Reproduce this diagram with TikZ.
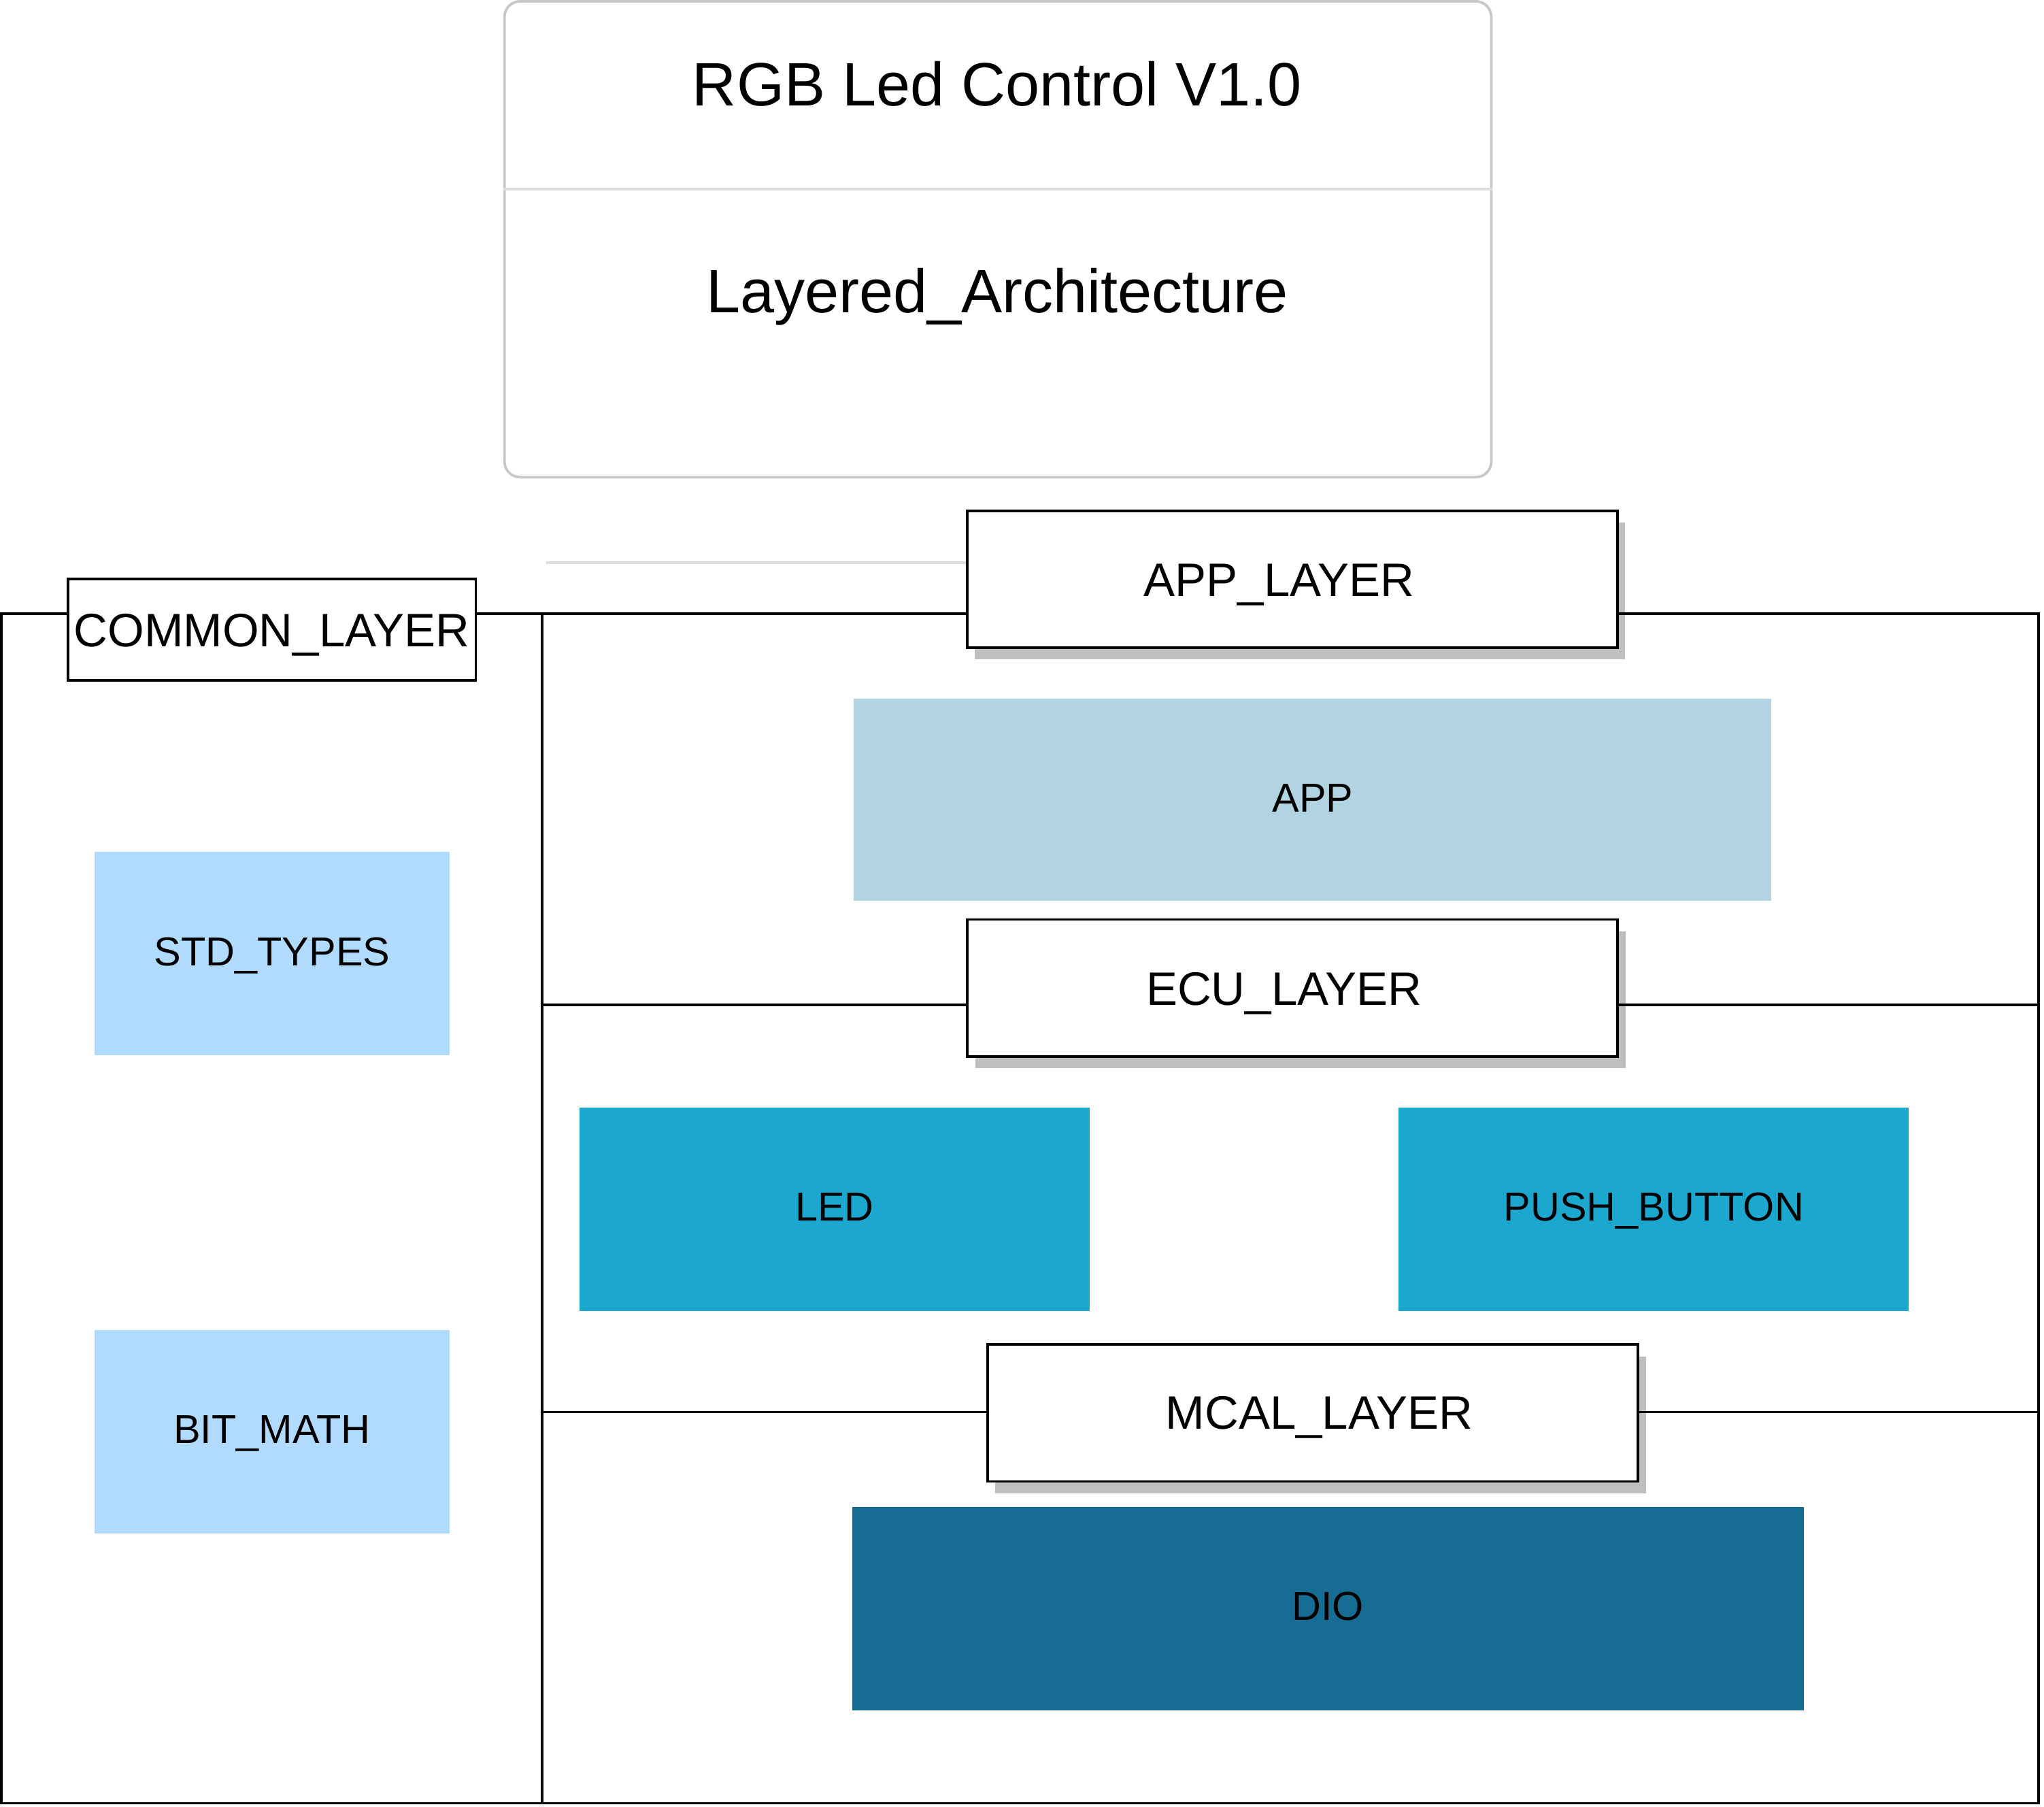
\documentclass[tikz,border=0pt]{standalone}
\usepackage{fontspec}
\setmainfont{Liberation Sans}
\usepackage{tikz}
\usetikzlibrary{positioning,shadows}
\definecolor{appblue}{HTML}{B1D3E2}
\definecolor{stdblue}{HTML}{B0DAFE}
\definecolor{ledblue}{HTML}{1BA7CE}
\definecolor{dioblue}{HTML}{166C93}
\definecolor{shgray}{HTML}{BFBFBF}
\definecolor{boxgray}{HTML}{C8C8C8}
\definecolor{linegray}{HTML}{DDDDDD}

\begin{document}
\begin{tikzpicture}[x=1pt, y=-1pt, line width=2pt, node distance=235pt]
\tikzstyle{every node}=[inner sep=0pt]
\tikzstyle{layer}=[draw=black, fill=white, minimum width=499pt, minimum height=105pt, text height=26pt, text depth=0pt, font=\fontsize{36}{43}\selectfont, drop shadow={shadow xshift=6pt, shadow yshift=-9pt, fill=shgray, opacity=1}]
\tikzstyle{module}=[minimum height=156pt, text height=22pt, text depth=4pt, font=\fontsize{31}{37}\selectfont]
\tikzstyle{heading}=[text height=34pt, text depth=0pt, font=\fontsize{47}{56}\selectfont]
\tikzstyle{faint}=[draw=linegray]
\tikzset{nudge/.style={execute at begin node={\hspace*{#1}}}}
\useasboundingbox (0,0) rectangle (1568,1385.4);
\node[draw=boxgray, rounded corners=12pt, minimum width=757pt, minimum height=365pt] (title) at (765.5,183.5) {};
\coordinate (split) at (0,145);
\draw[faint] (title.west |- split) -- (title.east |- split);
\node[heading] (name) at (765,64) {RGB Led Control V1.0};
\node[heading] (arch) at (765,223) {Layered\_Architecture};
\node[module, fill=stdblue, minimum width=272.6pt] (stdtypes) at (208.7,731.5) {STD\_TYPES};
\node[module, fill=stdblue, minimum width=272.6pt, below=208.7pt of stdtypes] (bitmath) {BIT\_MATH};
\node[module, fill=appblue, minimum width=704pt, minimum height=155pt] (app) at (1007,613.5) {APP};
\node[module, fill=ledblue, minimum width=391.4pt] (led) at (640.3,927.3) {LED};
\node[module, fill=ledblue, minimum width=391.4pt, right=of led] (button) {PUSH\_BUTTON};
\node[module, fill=dioblue, minimum width=729.8pt] (dio) at (1018.7,1233.9) {DIO};
\node[layer, nudge=-20pt] (applayer) at (991.3,444.3) {APP\_LAYER};
\node[layer, nudge=-13pt] (ecu) at (991.5,757.7) {ECU\_LAYER};
\node[layer, nudge=10pt, text depth=1pt] (mcal) at (1007,1083.7) {MCAL\_LAYER};
\node[draw=black, fill=white, minimum width=313pt, minimum height=78pt, text height=26pt, text depth=0pt, font=\fontsize{36}{43}\selectfont] (common) at (208.5,483) {COMMON\_LAYER};
\coordinate (tl) at (1,470.5);
\coordinate (tr) at (1564,470.5);
\coordinate (bl) at (1,1383);
\coordinate (br) at (1564,1383);
\coordinate (dt) at (416,470.5);
\coordinate (db) at (416,1383);
\coordinate (ecuL) at (416,770.5);
\coordinate (ecuR) at (1564,770.5);
\coordinate (mcalL) at (416,1083);
\coordinate (mcalR) at (1564,1083);
\coordinate (faintL) at (419,431.5);
\draw[faint] (faintL) -- (applayer.west |- faintL);
\draw (common.east |- tl) -- (applayer.west |- tl);
\draw (applayer.east |- tr) -- (tr) -- (br) -- (bl) -- (tl) -- (common.west |- tl);
\draw (dt) -- (db);
\draw (ecuL) -- (ecu.west |- ecuL) (ecu.east |- ecuR) -- (ecuR);
\draw (mcalL) -- (mcal.west |- mcalL) (mcal.east |- mcalR) -- (mcalR);
\end{tikzpicture}
\end{document}
